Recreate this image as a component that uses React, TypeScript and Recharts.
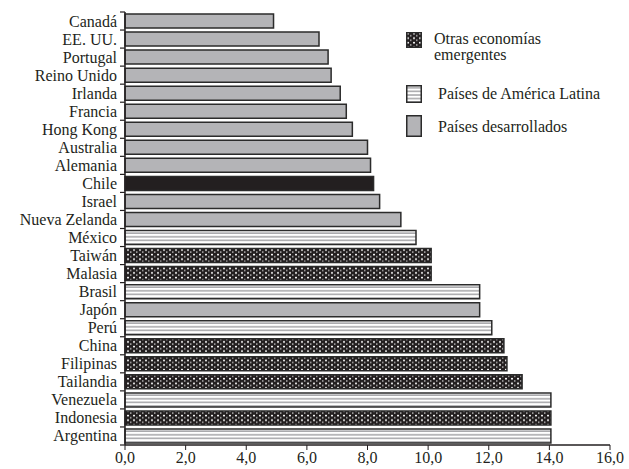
import React from "react";
import { BarChart, Bar, XAxis, YAxis, Cell } from "recharts";

// países de arriba hacia abajo, tal como aparecen en el gráfico
const paises = [
  "Canadá", "EE. UU.", "Portugal", "Reino Unido", "Irlanda", "Francia",
  "Hong Kong", "Australia", "Alemania", "Chile", "Israel", "Nueva Zelanda",
  "México", "Taiwán", "Malasia", "Brasil", "Japón", "Perú", "China",
  "Filipinas", "Tailandia", "Venezuela", "Indonesia", "Argentina",
];

const valores = [
  4.9, 6.4, 6.7, 6.8, 7.1, 7.3,
  7.5, 8.0, 8.1, 8.2, 8.4, 9.1,
  9.6, 10.1, 10.1, 11.7, 11.7, 12.1, 12.5,
  12.6, 13.1, 14.05, 14.05, 14.05,
];

// des = desarrollados, lat = América Latina, emg = otras emergentes, chi = Chile
const grupos = [
  "des", "des", "des", "des", "des", "des",
  "des", "des", "des", "chi", "des", "des",
  "lat", "emg", "emg", "lat", "des", "lat", "emg",
  "emg", "emg", "lat", "emg", "lat",
];

const ticksX = [0, 2, 4, 6, 8, 10, 12, 14, 16];

const rellenos: Record<string, string> = {
  des: "#b4b4b7",
  lat: "url(#rayas)",
  emg: "url(#puntos)",
  chi: "#231f20",
};

const data = paises.map((pais, i) => ({ pais, valor: valores[i], grupo: grupos[i] }));

const TEXTO = "#231f20";
const FUENTE = "'Liberation Serif', 'Times New Roman', Times, 'DejaVu Serif', serif";
const BANDA = 433 / paises.length;

function TickPais(props: any) {
  const { x, y, payload, index } = props;
  const ejeX = x + 8;
  return (
    <g>
      <text
        x={x}
        y={y}
        textAnchor="end"
        dominantBaseline="central"
        fontSize={16}
        fill={TEXTO}
        style={{ fontFamily: FUENTE }}
      >
        {payload.value}
      </text>
      <line x1={ejeX - 5} x2={ejeX} y1={y - BANDA / 2} y2={y - BANDA / 2} stroke={TEXTO} strokeWidth={1.2} />
      {index === paises.length - 1 && (
        <line x1={ejeX - 5} x2={ejeX} y1={y + BANDA / 2} y2={y + BANDA / 2} stroke={TEXTO} strokeWidth={1.2} />
      )}
    </g>
  );
}

function Muestra({ fill, w, h }: { fill: string; w: number; h: number }) {
  return (
    <svg width={w} height={h} style={{ display: "block" }}>
      <rect x={0.75} y={0.75} width={w - 1.5} height={h - 1.5} fill={fill} stroke="#2b2b2b" strokeWidth={1.5} />
    </svg>
  );
}

const textoLeyenda: React.CSSProperties = {
  position: "absolute",
  fontSize: 16,
  lineHeight: "15px",
  whiteSpace: "nowrap",
};

export default function App() {
  return (
    <div
      style={{
        position: "absolute",
        left: 0,
        top: 0,
        width: 629,
        height: 469,
        background: "#fff",
        fontFamily: FUENTE,
        color: TEXTO,
      }}
    >
      <svg width={0} height={0} style={{ position: "absolute" }}>
        <defs>
          <pattern id="rayas" width={4} height={3.6} patternUnits="userSpaceOnUse">
            <rect width={4} height={3.6} fill="#ffffff" />
            <rect y={2} width={4} height={1.6} fill="#a9a9ac" />
          </pattern>
          <pattern id="puntos" width={6} height={4.6} patternUnits="userSpaceOnUse">
            <rect width={6} height={4.6} fill="#231f20" />
            <rect x={1} y={0.8} width={2} height={1.5} fill="#ffffff" />
            <rect x={4.2} y={3.1} width={1.2} height={1.2} fill="#ffffff" />
          </pattern>
        </defs>
      </svg>

      <BarChart
        width={629}
        height={469}
        data={data}
        layout="vertical"
        margin={{ top: 12, right: 19, bottom: 0, left: 0 }}
        barSize={14}
        style={{ fontFamily: FUENTE }}
      >
        <XAxis
          type="number"
          domain={[0, 16]}
          ticks={ticksX}
          tickFormatter={(v: number) => v.toFixed(1).replace(".", ",")}
          height={24}
          tickSize={5}
          tickMargin={2}
          interval={0}
          axisLine={{ stroke: TEXTO, strokeWidth: 1.5 }}
          tickLine={{ stroke: TEXTO }}
          tick={{ fill: TEXTO, fontSize: 16, style: { fontFamily: FUENTE } }}
        />
        <XAxis
          xAxisId="arriba"
          orientation="top"
          type="number"
          domain={[0, 16]}
          height={0}
          tick={false}
          tickLine={false}
          axisLine={{ stroke: "#a0a0a0" }}
        />
        <YAxis
          type="category"
          dataKey="pais"
          width={125}
          interval={0}
          tickSize={5}
          tickMargin={3}
          tickLine={{ stroke: "none" }}
          axisLine={{ stroke: TEXTO, strokeWidth: 1.5 }}
          tick={<TickPais />}
        />
        <YAxis
          yAxisId="derecha"
          orientation="right"
          type="category"
          dataKey="pais"
          width={0}
          tick={false}
          tickLine={false}
          axisLine={{ stroke: "#555555" }}
        />
        <Bar dataKey="valor" stroke="#2b2b2b" strokeWidth={1.5} isAnimationActive={false}>
          {data.map((d) => (
            <Cell key={d.pais} fill={rellenos[d.grupo]} />
          ))}
        </Bar>
      </BarChart>

      <div style={{ position: "absolute", left: 406, top: 32 }}>
        <Muestra fill="url(#puntos)" w={16} h={16} />
      </div>
      <div style={{ ...textoLeyenda, left: 434, top: 31 }}>Otras economías</div>
      <div style={{ ...textoLeyenda, left: 434, top: 47 }}>emergentes</div>

      <div style={{ position: "absolute", left: 406, top: 85 }}>
        <Muestra fill="url(#rayas)" w={16} h={18} />
      </div>
      <div style={{ ...textoLeyenda, left: 438, top: 86 }}>Países de América Latina</div>

      <div style={{ position: "absolute", left: 406, top: 115 }}>
        <Muestra fill="#b4b4b7" w={16} h={22} />
      </div>
      <div style={{ ...textoLeyenda, left: 438, top: 119 }}>Países desarrollados</div>
    </div>
  );
}
